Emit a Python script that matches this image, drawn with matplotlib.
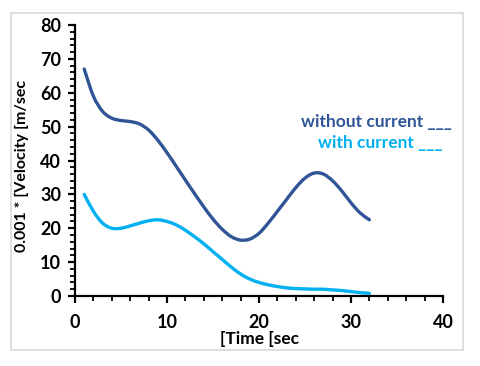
import numpy as np
import matplotlib.pyplot as plt
from matplotlib.patches import Rectangle, PathPatch
from matplotlib.path import Path
from matplotlib.ticker import MultipleLocator

plt.rcParams['font.family'] = ['Lato', 'DejaVu Sans']

time = np.arange(1, 33)
without_current = [67, 59, 54.5, 52.5, 51.8, 51.5, 50.8, 49.0, 46.0, 42.3,
                   38.3, 34.2, 30.2, 26.3, 22.7, 19.7, 17.5, 16.5, 16.8, 18.5,
                   21.5, 25, 28.5, 32, 34.8, 36.3, 36, 34, 31, 27.5,
                   24.5, 22.5]
with_current = [30, 25, 21.5, 20, 20, 20.7, 21.5, 22.2, 22.5, 22,
                21, 19.4, 17.5, 15.4, 13.1, 10.8, 8.5, 6.5, 5, 4,
                3.3, 2.8, 2.4, 2.2, 2.1, 2, 2, 1.8, 1.6, 1.3,
                1, 0.8]

dark = '#2F5597'
light = '#00B0F0'


def smooth_path(x, y):
    # Excel-style smoothed line: bezier segments through every data point
    pts = np.column_stack([x, y]).astype(float)
    verts = [pts[0]]
    codes = [Path.MOVETO]
    for i in range(len(pts) - 1):
        p0 = pts[max(i - 1, 0)]
        p1, p2 = pts[i], pts[i + 1]
        p3 = pts[min(i + 2, len(pts) - 1)]
        verts += [p1 + (p2 - p0) / 6, p2 - (p3 - p1) / 6, p2]
        codes += [Path.CURVE4] * 3
    return Path(verts, codes)


fig = plt.figure(figsize=(4.8, 3.66), dpi=100)
ax = fig.add_axes([75/480, 1-296/366, (443-75)/480, (296-25)/366])

# light grey frame round the chart
fig.patches.append(Rectangle((11/480, 1-350/366), (463-11)/480, (350-13)/366,
                             transform=fig.transFigure, fill=False,
                             edgecolor='#d9d9d9', linewidth=1.2))

for ys, col in [(without_current, dark), (with_current, light)]:
    ax.add_patch(PathPatch(smooth_path(time, ys), facecolor='none',
                           edgecolor=col, linewidth=2.4, capstyle='round'))

ax.set_xlim(0, 40)
ax.set_ylim(0, 80)
ax.xaxis.set_major_locator(MultipleLocator(10))
ax.xaxis.set_minor_locator(MultipleLocator(2))
ax.yaxis.set_major_locator(MultipleLocator(10))
ax.yaxis.set_minor_locator(MultipleLocator(2))

for s in ['top', 'right']:
    ax.spines[s].set_visible(False)
for s in ['left', 'bottom']:
    ax.spines[s].set_linewidth(1.6)
ax.tick_params(which='major', direction='out', length=5, width=1.6,
               labelsize=13, colors='black')
ax.tick_params(which='minor', direction='out', length=3.5, width=1.3)
ax.tick_params(axis='x', which='major', pad=8)
ax.tick_params(axis='y', which='major', pad=5)
for lab in ax.get_xticklabels() + ax.get_yticklabels():
    lab.set_fontweight('bold')

ax.set_xlabel('[Time [sec', fontsize=12.5, fontweight='bold')
ax.xaxis.set_label_coords(0.5, -0.128)
ax.set_ylabel('0.001 * [Velocity [m/sec', fontsize=11.5, fontweight='bold')
ax.yaxis.set_label_coords(-0.125, 0.48)

fig.text(452/480, 1-122/366, 'without current ___', color=dark, fontsize=12.5,
         fontweight='bold', ha='right', va='center')
fig.text(442/480, 1-143/366, 'with current ___', color=light, fontsize=12.5,
         fontweight='bold', ha='right', va='center')

fig.savefig('out.png', dpi=100)
